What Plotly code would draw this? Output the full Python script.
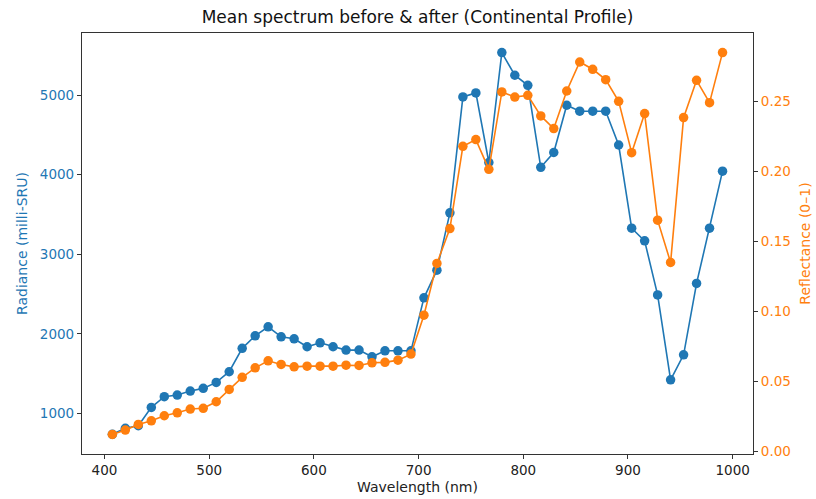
import plotly.graph_objects as go

wavelength_nm = [407.5, 419.9, 432.3, 444.7, 457.1, 469.5, 481.9, 494.3, 506.7, 519.1,
                 531.5, 543.9, 556.3, 568.7, 581.1, 593.5, 605.9, 618.3, 630.7, 643.1,
                 655.5, 667.9, 680.3, 692.7, 705.1, 717.5, 729.9, 742.3, 754.7, 767.1,
                 779.5, 791.9, 804.3, 816.7, 829.1, 841.5, 853.9, 866.3, 878.7, 891.1,
                 903.5, 915.9, 928.3, 940.7, 953.1, 965.5, 977.9, 990.3]

radiance_msru = [736, 812, 844, 1075, 1209, 1230, 1280, 1314, 1389, 1523,
                 1817, 1975, 2088, 1962, 1937, 1837, 1887, 1837, 1795, 1795,
                 1711, 1786, 1786, 1786, 2452, 2800, 3520, 4977, 5028, 4153,
                 5535, 5250, 5124, 4093, 4279, 4873, 4798, 4798, 4798, 4373,
                 3327, 3168, 2489, 1421, 1736, 2633, 3327, 4044]

reflectance = [0.0124, 0.0155, 0.0195, 0.0221, 0.0257, 0.0278, 0.0305, 0.0310, 0.0357, 0.0445,
               0.0531, 0.0599, 0.0649, 0.0623, 0.0606, 0.0611, 0.0611, 0.0611, 0.0618, 0.0616,
               0.0635, 0.0638, 0.0654, 0.0697, 0.0975, 0.1344, 0.1593, 0.2180, 0.2228, 0.2016,
               0.2568, 0.2532, 0.2544, 0.2397, 0.2307, 0.2575, 0.2782, 0.2730, 0.2656, 0.2501,
               0.2135, 0.2414, 0.1653, 0.1351, 0.2385, 0.2651, 0.2492, 0.2849]

left_ticks = [1000, 2000, 3000, 4000, 5000]
right_ticks = [0.00, 0.05, 0.10, 0.15, 0.20, 0.25]
x_ticks = [400, 500, 600, 700, 800, 900, 1000]

BLUE = "#1f77b4"
ORANGE = "#ff7f0e"
FONT = "DejaVu Sans"
FRAME = "#333"

fig = go.Figure()
fig.add_trace(go.Scatter(x=wavelength_nm, y=radiance_msru, mode="lines+markers",
                         line=dict(color=BLUE, width=1.6),
                         marker=dict(color=BLUE, size=9.5),
                         name="Radiance", yaxis="y"))
fig.add_trace(go.Scatter(x=wavelength_nm, y=reflectance, mode="lines+markers",
                         line=dict(color=ORANGE, width=1.6),
                         marker=dict(color=ORANGE, size=9.5),
                         name="Reflectance", yaxis="y2"))

fig.update_layout(
    width=816, height=499,
    margin=dict(l=82, r=63, t=33, b=45),
    paper_bgcolor="white", plot_bgcolor="white",
    showlegend=False,
    font=dict(family=FONT, size=14, color="#222"),
    title=dict(text="Mean spectrum before & after (Continental Profile)",
               x=0.5, xref="paper", xanchor="center",
               y=1 - 17 / 499, yref="container", yanchor="middle",
               font=dict(family=FONT, size=17, color="#111")),
    xaxis=dict(range=[378.5, 1019.4], tickvals=x_ticks, automargin=False,
               ticks="outside", ticklen=4, tickcolor=FRAME,
               tickfont=dict(size=13.5),
               showline=True, linecolor=FRAME, linewidth=1.2, mirror=True,
               showgrid=False, zeroline=False,
               title=dict(text="Wavelength (nm)", standoff=4,
                          font=dict(family=FONT, size=14, color="#222"))),
    yaxis=dict(range=[489, 5781], tickvals=left_ticks, automargin=False,
               ticks="outside", ticklen=4, tickcolor=FRAME,
               tickfont=dict(size=13.5, color=BLUE),
               showline=True, linecolor=FRAME, linewidth=1.2, mirror=True,
               showgrid=False, zeroline=False,
               title=dict(text="Radiance (milli-SRU)", standoff=8,
                          font=dict(family=FONT, size=14, color=BLUE))),
    yaxis2=dict(range=[-0.0016, 0.2989], tickvals=right_ticks, tickformat=".2f",
                overlaying="y", side="right", automargin=False,
                ticks="outside", ticklen=4, tickcolor=FRAME,
                tickfont=dict(size=13.5, color=ORANGE),
                showline=True, linecolor=FRAME, linewidth=1.2,
                showgrid=False, zeroline=False,
                title=dict(text="Reflectance (0–1)", standoff=10,
                           font=dict(family=FONT, size=14, color=ORANGE))),
)

fig.write_html("out.html")
